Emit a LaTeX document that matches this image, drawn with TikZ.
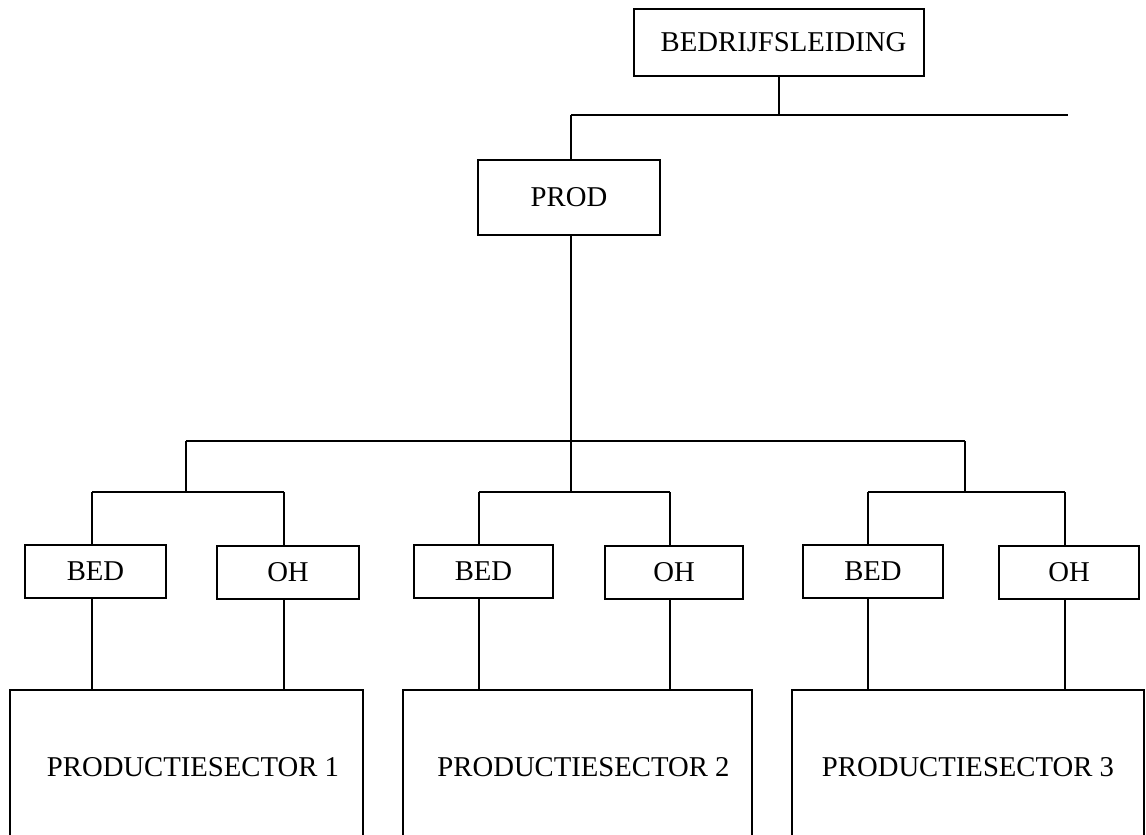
\documentclass[tikz,border=0pt]{standalone}
\usepackage{fontspec}
\setmainfont{Liberation Serif}
\begin{document}
\begin{tikzpicture}[x=1pt,y=-1pt,
  line width=2pt,
  unit/.style={draw, rectangle, inner sep=0pt, line width=2pt,
    font=\fontsize{28.7}{34}\selectfont},
  wire/.style={line width=2pt}]
\useasboundingbox (0,0) rectangle (1146,835);
\clip (0,0) rectangle (1146,835);

% management and production
\node[unit, minimum width=290, minimum height=67] (top) at (779,42.5) {\hspace{9pt}BEDRIJFSLEIDING};
\node[unit, minimum width=182, minimum height=75] (prod) at (569,197.5) {PROD};

% sector staff units
\node[unit, minimum width=141, minimum height=53] (bedA) at (95.5,571.5) {BED};
\node[unit, minimum width=142, minimum height=53] (ohA)  at (288,572) {OH};
\node[unit, minimum width=139, minimum height=53] (bedB) at (483.5,571) {BED};
\node[unit, minimum width=138, minimum height=53] (ohB)  at (674,572) {OH};
\node[unit, minimum width=140, minimum height=53] (bedC) at (873,571) {BED};
\node[unit, minimum width=140, minimum height=53] (ohC)  at (1069,572) {OH};

% production sectors (open towards the lower edge)
\node[unit, minimum width=353, minimum height=155] (secA) at (186.5,767.5) {\hspace{13pt}PRODUCTIESECTOR 1};
\node[unit, minimum width=349, minimum height=155] (secB) at (577.5,767.5) {\hspace{12pt}PRODUCTIESECTOR 2};
\node[unit, minimum width=352, minimum height=155] (secC) at (968,767.5) {PRODUCTIESECTOR 3};

% bus junctions
\coordinate (busL) at (571,115);
\coordinate (busR) at (1068,115);
\coordinate (mA) at (186,441);
\coordinate (mB) at (571,441);
\coordinate (mC) at (965,441);
\coordinate (aL) at (92,492);  \coordinate (aR) at (284,492);
\coordinate (bL) at (479,492); \coordinate (bR) at (670,492);
\coordinate (cL) at (868,492); \coordinate (cR) at (1065,492);

% top level connections
\draw[wire] (top.south) -- (top.south |- busL);
\draw[wire] (busL) -- (busR);
\draw[wire] (busL) -- (busL |- prod.north);
\draw[wire] (busL |- prod.south) -- (mB);
\draw[wire] (mA) -- (mC);

% sector buses
\draw[wire] (mA) -- (mA |- aL);
\draw[wire] (aL) -- (aR);
\draw[wire] (mB) -- (mB |- bL);
\draw[wire] (bL) -- (bR);
\draw[wire] (mC) -- (mC |- cL);
\draw[wire] (cL) -- (cR);

% staff units hanging from the buses
\draw[wire] (aL) -- (aL |- bedA.north);
\draw[wire] (aR) -- (aR |- ohA.north);
\draw[wire] (bL) -- (bL |- bedB.north);
\draw[wire] (bR) -- (bR |- ohB.north);
\draw[wire] (cL) -- (cL |- bedC.north);
\draw[wire] (cR) -- (cR |- ohC.north);

% staff units to production sectors
\draw[wire] (aL |- bedA.south) -- (aL |- secA.north);
\draw[wire] (aR |- ohA.south) -- (aR |- secA.north);
\draw[wire] (bL |- bedB.south) -- (bL |- secB.north);
\draw[wire] (bR |- ohB.south) -- (bR |- secB.north);
\draw[wire] (cL |- bedC.south) -- (cL |- secC.north);
\draw[wire] (cR |- ohC.south) -- (cR |- secC.north);
\end{tikzpicture}
\end{document}
